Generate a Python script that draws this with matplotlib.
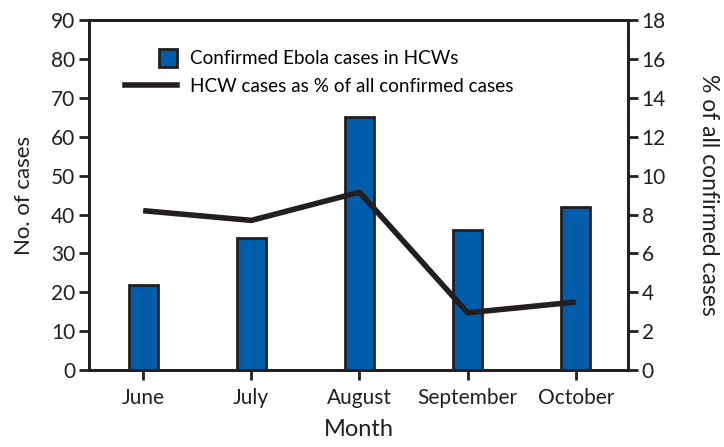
import matplotlib
matplotlib.use("Agg")
import matplotlib.pyplot as plt
from matplotlib.lines import Line2D
from matplotlib.patches import Patch, Rectangle
from matplotlib.legend_handler import HandlerPatch

months = ["June", "July", "August", "September", "October"]
hcw_cases = [22, 34, 65, 36, 42]
pct_cases = [8.2, 7.7, 9.15, 2.95, 3.5]

plt.rcParams['font.family'] = ['Lato', 'DejaVu Sans']
dark = '#231F20'
blue = '#005DAA'

fig = plt.figure(figsize=(7.24, 4.47), dpi=100)
ax = fig.add_axes([0.123, 0.172, 0.744, 0.783])
x = list(range(len(months)))
ax.bar(x, hcw_cases, width=0.27, color=blue, edgecolor=dark, linewidth=2, zorder=2)
ax.set_xlim(-0.5, 4.48)
ax.set_ylim(0, 90)
ax.set_yticks(range(0, 91, 10))
ax.set_xticks(x)
ax.set_xticklabels(months)
ax.set_ylabel("No. of cases", fontsize=16, color=dark, labelpad=12)
ax.set_xlabel("Month", fontsize=17, color=dark, labelpad=8)

ax2 = ax.twinx()
ax2.plot(x, pct_cases, color=dark, linewidth=4, zorder=3, solid_capstyle='butt')
ax2.set_ylim(0, 18)
ax2.set_yticks(range(0, 19, 2))
ax2.set_ylabel("% of all confirmed cases", fontsize=16.5, color=dark, rotation=270, labelpad=38)

for a in (ax, ax2):
    for s in a.spines.values():
        s.set_linewidth(2)
        s.set_color(dark)
    a.tick_params(width=2, length=7, colors=dark, labelsize=15, pad=3)
ax.tick_params(axis='x', pad=6)


def square_patch(legend, orig_handle, xdescent, ydescent, width, height, fontsize):
    s = 13
    return Rectangle((-xdescent + width - s, -ydescent + (height - s) / 2), s, s)


handles = [Patch(facecolor=blue, edgecolor=dark, linewidth=2),
           Line2D([0], [0], color=dark, linewidth=4)]
labels = ["Confirmed Ebola cases in HCWs", "HCW cases as % of all confirmed cases"]
ax.legend(handles, labels, loc='upper left', bbox_to_anchor=(0.035, 0.962), frameon=False,
          fontsize=13.6, handlelength=2.75, labelspacing=0.55, handletextpad=0.7,
          handler_map={Patch: HandlerPatch(patch_func=square_patch)})

fig.savefig("out.png", dpi=100)
